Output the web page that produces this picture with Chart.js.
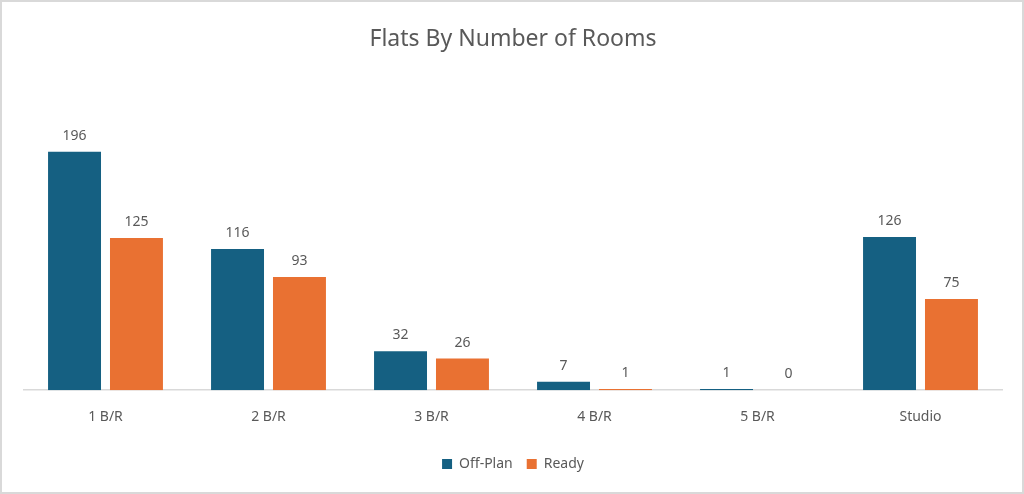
<!DOCTYPE html>
<html>
<head>
<meta charset="utf-8">
<script src="https://cdn.jsdelivr.net/npm/chart.js@4"></script>
<style>
  html, body { margin: 0; padding: 0; background: #fff; }
  #wrap { width: 1024px; height: 494px; box-sizing: border-box; border: 2px solid #d9d9d9; position: relative; }
</style>
</head>
<body>
<div id="wrap"><canvas id="myChart" width="1020" height="490"></canvas></div>
<script>
// Flats by number of rooms //
var categories = ['1 B/R', '2 B/R', '3 B/R', '4 B/R', '5 B/R', 'Studio'];
var offPlan = [196, 116, 32, 7, 1, 126];
var ready = [125, 93, 26, 1, 0, 75];

var textColor = '#595959';
var fontFamily = '"Noto Sans", "Open Sans", sans-serif';

// draw the value above each bar
var barLabels = {
  id: 'barLabels',
  afterDatasetsDraw: function(chart) {
    var ctx = chart.ctx;
    ctx.save();
    ctx.fillStyle = textColor;
    ctx.font = '14px ' + fontFamily;
    ctx.textAlign = 'center';
    ctx.textBaseline = 'bottom';
    chart.data.datasets.forEach(function(ds, i) {
      chart.getDatasetMeta(i).data.forEach(function(bar, j) {
        ctx.fillText(ds.data[j], bar.x, bar.y - 9);
      });
    });
    ctx.restore();
  }
};

var chart = document.getElementById('myChart');
var myChart = new Chart(chart, {
  type: 'bar',
  data: {
    labels: categories,
    datasets: [{
      label: 'Off-Plan',
      data: offPlan,
      backgroundColor: '#156082'
    }, {
      label: 'Ready',
      data: ready,
      backgroundColor: '#E97132'
    }]
  },
  options: {
    responsive: false,
    animation: false,
    categoryPercentage: 0.76,
    barPercentage: 0.855,
    layout: { padding: { left: 22, right: 20, top: 13, bottom: 11 } },
    scales: {
      x: {
        grid: { display: false, drawTicks: false },
        border: { color: '#d9d9d9', width: 1.5 },
        ticks: { color: textColor, font: { family: fontFamily, size: 14 }, padding: 18 }
      },
      y: {
        display: false,
        min: 0,
        max: 252
      }
    },
    plugins: {
      title: {
        display: true,
        text: 'Flats By Number of Rooms',
        color: textColor,
        font: { family: fontFamily, size: 23, weight: 'normal' },
        padding: { top: 11, bottom: 30 }
      },
      legend: {
        position: 'bottom',
        labels: {
          color: textColor,
          font: { family: fontFamily, size: 14 },
          boxWidth: 10,
          boxHeight: 10,
          padding: 14
        }
      },
      tooltip: { enabled: false }
    }
  },
  plugins: [barLabels]
});
</script>
</body>
</html>
